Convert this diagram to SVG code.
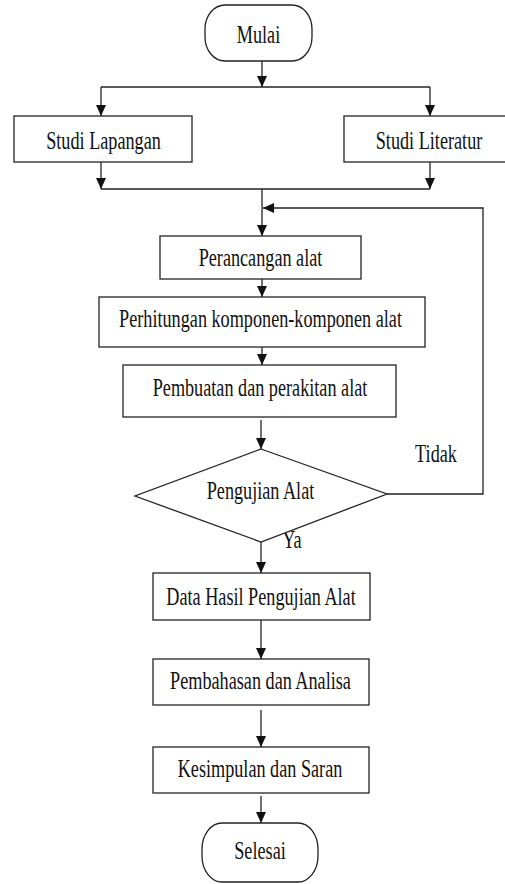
<svg xmlns="http://www.w3.org/2000/svg" width="505" height="884" viewBox="0 0 505 884">
<style>
.box{fill:#fff;stroke:#222;stroke-width:1.3}
.ln{fill:none;stroke:#222;stroke-width:1.3}
.arr{marker-end:url(#ah)}
.t{font-family:"Liberation Serif","Times New Roman",serif;font-size:18.2px;fill:#111;text-anchor:middle}
</style>
<defs>
<marker id="ah" markerUnits="userSpaceOnUse" markerWidth="12" markerHeight="12" viewBox="0 0 12 12" refX="11" refY="6" orient="auto">
<path d="M0,1 L11,6 L0,11 Z" fill="#111"/>
</marker>
</defs>
<rect width="505" height="884" fill="#fff"/>
<g id="connectors">
<line class="ln arr" x1="262" y1="61" x2="262" y2="87"/>
<line class="ln" x1="101" y1="87" x2="430" y2="87"/>
<line class="ln arr" x1="101" y1="87" x2="101" y2="116"/>
<line class="ln arr" x1="430" y1="87" x2="430" y2="116"/>
<line class="ln arr" x1="101" y1="162" x2="101" y2="189"/>
<line class="ln arr" x1="430" y1="162" x2="430" y2="189"/>
<line class="ln" x1="101" y1="189" x2="430" y2="189"/>
<line class="ln arr" x1="262" y1="189" x2="262" y2="236"/>
<polyline class="ln arr" points="387,494 483,494 483,208 263,208"/>
<line class="ln arr" x1="262" y1="279" x2="262" y2="297"/>
<line class="ln arr" x1="262" y1="347" x2="262" y2="365"/>
<line class="ln arr" x1="261" y1="420" x2="261" y2="449"/>
<line class="ln arr" x1="261" y1="542" x2="261" y2="573"/>
<line class="ln arr" x1="261" y1="620" x2="261" y2="659"/>
<line class="ln arr" x1="261" y1="710" x2="261" y2="747"/>
<line class="ln arr" x1="261" y1="796" x2="261" y2="823"/>
<text class="t" transform="matrix(1,0,0,1.37,436,462)">Tidak</text>
<text class="t" transform="matrix(1,0,0,1.37,292,548)">Ya</text>
</g>
<g id="mulai">
<rect class="box" x="205" y="5" width="107" height="56" rx="20" ry="24"/>
<text class="t" transform="matrix(1,0,0,1.37,258.5,43)">Mulai</text>
</g>
<g id="studi-lapangan">
<rect class="box" x="14" y="116" width="178" height="46"/>
<text class="t" transform="matrix(1,0,0,1.37,103.5,149)">Studi Lapangan</text>
</g>
<g id="studi-literatur">
<rect class="box" x="344" y="116" width="166" height="46"/>
<text class="t" transform="matrix(1,0,0,1.37,429,149)">Studi Literatur</text>
</g>
<g id="perancangan">
<rect class="box" x="160" y="236" width="201" height="43"/>
<text class="t" transform="matrix(1,0,0,1.37,260.5,266)">Perancangan alat</text>
</g>
<g id="perhitungan">
<rect class="box" x="99" y="297" width="326" height="50"/>
<text class="t" transform="matrix(1,0,0,1.37,260.5,327)">Perhitungan komponen-komponen alat</text>
</g>
<g id="pembuatan">
<rect class="box" x="123" y="365" width="273" height="52"/>
<text class="t" transform="matrix(1,0,0,1.37,260,396)">Pembuatan dan perakitan alat</text>
</g>
<g id="pengujian">
<polygon class="box" points="261,449 387,494 261,542 135,496"/>
<text class="t" transform="matrix(1,0,0,1.37,260.5,499)">Pengujian Alat</text>
</g>
<g id="data-hasil">
<rect class="box" x="153" y="573" width="217" height="47"/>
<text class="t" transform="matrix(1,0,0,1.37,261,605)">Data Hasil Pengujian Alat</text>
</g>
<g id="pembahasan">
<rect class="box" x="153" y="659" width="216" height="46"/>
<text class="t" transform="matrix(1,0,0,1.37,260.5,689)">Pembahasan dan Analisa</text>
</g>
<g id="kesimpulan">
<rect class="box" x="153" y="747" width="216" height="46"/>
<text class="t" transform="matrix(1,0,0,1.37,260,777)">Kesimpulan dan Saran</text>
</g>
<g id="selesai">
<rect class="box" x="202" y="823" width="116" height="59" rx="20" ry="26"/>
<text class="t" transform="matrix(1,0,0,1.37,260,859)">Selesai</text>
</g>
</svg>
